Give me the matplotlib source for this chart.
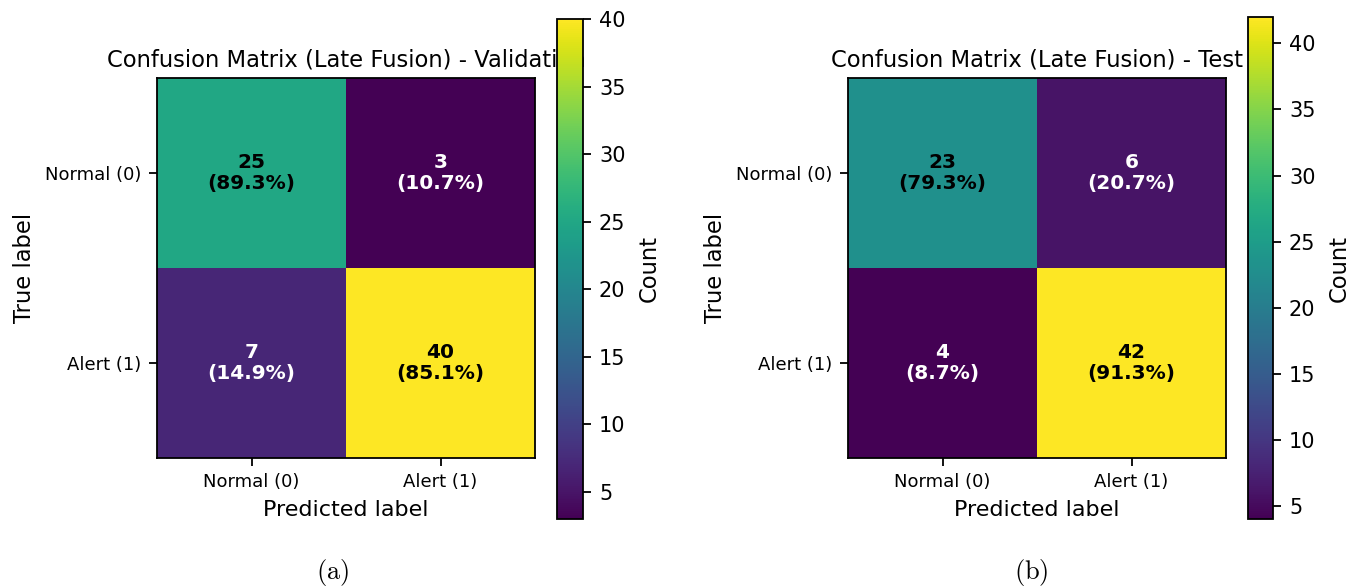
import numpy as np
import matplotlib
matplotlib.use("Agg")
import matplotlib.pyplot as plt

plt.rcParams["mathtext.fontset"] = "cm"

class_names = ["Normal (0)", "Alert (1)"]

cm_val = np.array([[25, 3],
                   [7, 40]])
cm_test = np.array([[23, 6],
                    [4, 42]])

titles = ["Confusion Matrix (Late Fusion) - Validation",
          "Confusion Matrix (Late Fusion) - Test"]
captions = ["(a)", "(b)"]

W, H = 1359, 587
fig = plt.figure(figsize=(W / 100, H / 100), dpi=100)


def box(x0, y0, x1, y1):
    # pixel box (top-left origin) -> figure fraction
    return [x0 / W, 1 - y1 / H, (x1 - x0) / W, (y1 - y0) / H]


panels = [
    (cm_val, titles[0], captions[0], box(157, 78, 535, 458), box(557, 19, 583, 519), 333),
    (cm_test, titles[1], captions[1], box(848, 78, 1226, 458), box(1248, 17, 1273, 519), 1031),
]

for cm, title, cap, ax_box, cb_box, cx in panels:
    ax = fig.add_axes(ax_box)
    vmin, vmax = cm.min(), cm.max()
    im = ax.imshow(cm, cmap="viridis", vmin=vmin, vmax=vmax, aspect="auto")
    ax.set_title(title, fontsize=16.3, pad=8)
    ax.set_xticks(range(len(class_names)))
    ax.set_yticks(range(len(class_names)))
    ax.set_xticklabels(class_names, fontsize=13)
    ax.set_yticklabels(class_names, fontsize=13)
    ax.set_xlabel("Predicted label", fontsize=16, labelpad=6)
    ax.set_ylabel("True label", fontsize=16.3, labelpad=7)
    for s in ax.spines.values():
        s.set_linewidth(1.3)
    ax.tick_params(width=1.3, length=6, pad=5)

    row_sums = cm.sum(axis=1)
    thresh = (vmin + vmax) / 2
    for i in range(cm.shape[0]):
        for j in range(cm.shape[1]):
            pct = 100 * cm[i, j] / row_sums[i]
            color = "black" if cm[i, j] >= thresh else "white"
            ax.text(j, i, f"{cm[i, j]}\n({pct:.1f}%)", ha="center", va="center",
                    fontsize=14.5, fontweight="bold", color=color, linespacing=1.1)

    cax = fig.add_axes(cb_box)
    cb = fig.colorbar(im, cax=cax)
    cb.set_ticks(range(5, 41, 5))
    cb.ax.tick_params(labelsize=15, width=1.3, length=6, pad=5.5)
    cb.outline.set_linewidth(1.3)
    cb.set_label("Count", fontsize=16.3, labelpad=9)

    fig.text(cx / W, 1 - 572 / H, r"$\mathrm{" + cap + "}$", ha="center", va="center",
             fontsize=19)

fig.savefig("out.png", dpi=100)
